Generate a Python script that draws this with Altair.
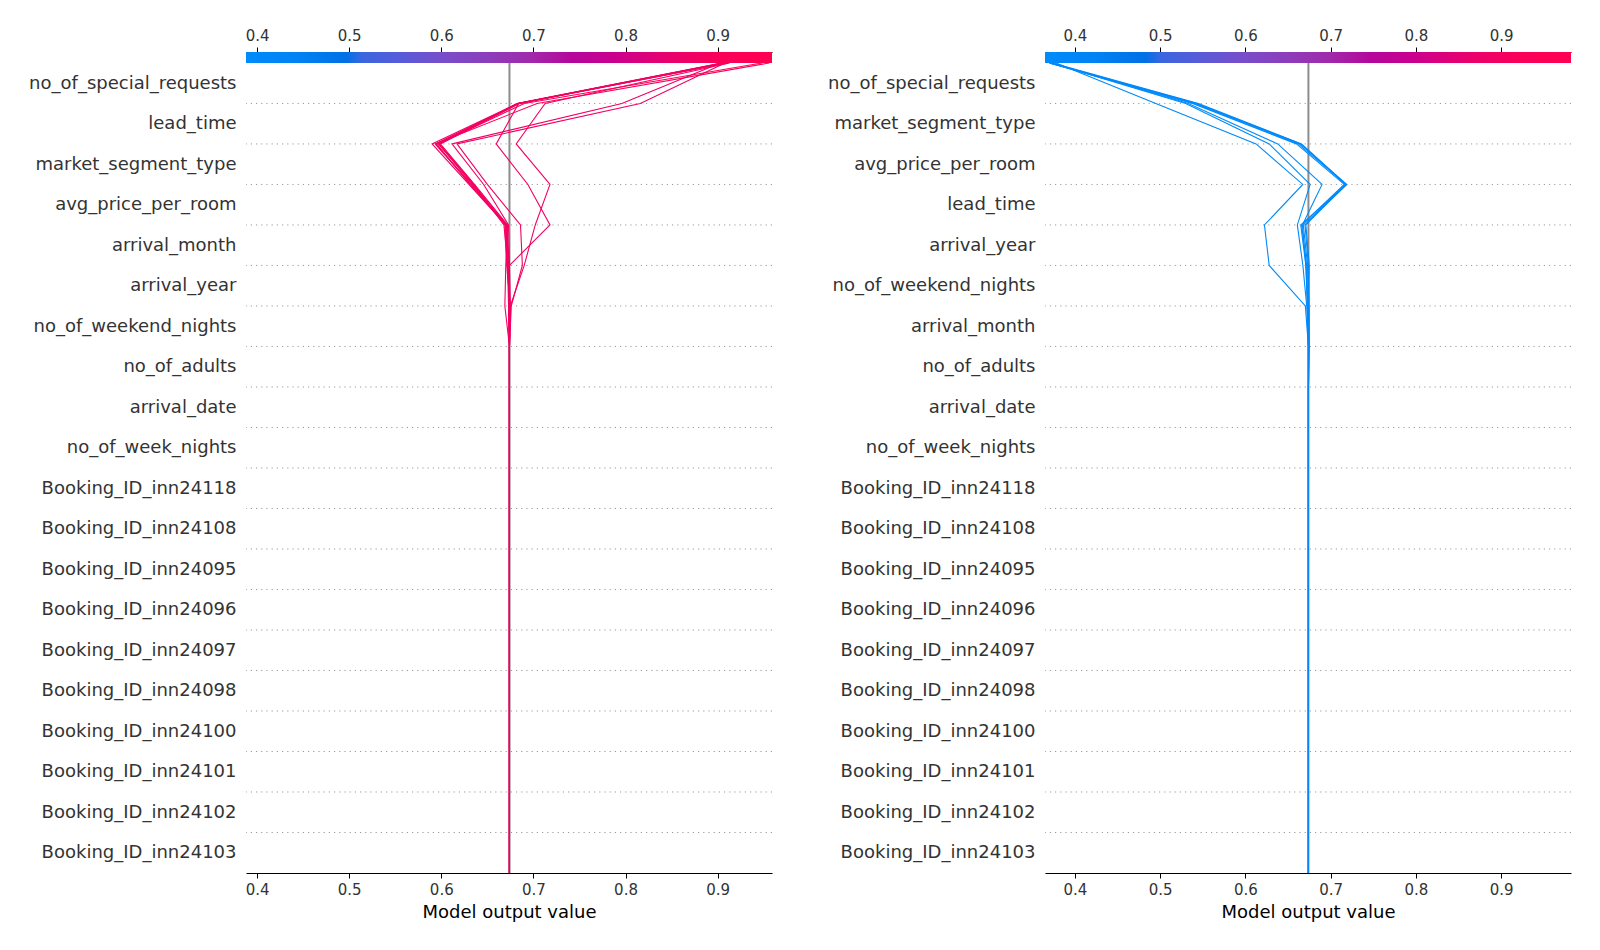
import altair as alt
import pandas as pd

BASE_VALUE = 0.674

# features listed top -> bottom
left_features = [
    "no_of_special_requests", "lead_time", "market_segment_type", "avg_price_per_room",
    "arrival_month", "arrival_year", "no_of_weekend_nights", "no_of_adults",
    "arrival_date", "no_of_week_nights", "Booking_ID_inn24118", "Booking_ID_inn24108",
    "Booking_ID_inn24095", "Booking_ID_inn24096", "Booking_ID_inn24097", "Booking_ID_inn24098",
    "Booking_ID_inn24100", "Booking_ID_inn24101", "Booking_ID_inn24102", "Booking_ID_inn24103",
]
right_features = [
    "no_of_special_requests", "market_segment_type", "avg_price_per_room", "lead_time",
    "arrival_year", "no_of_weekend_nights", "arrival_month", "no_of_adults",
    "arrival_date", "no_of_week_nights", "Booking_ID_inn24118", "Booking_ID_inn24108",
    "Booking_ID_inn24095", "Booking_ID_inn24096", "Booking_ID_inn24097", "Booking_ID_inn24098",
    "Booking_ID_inn24100", "Booking_ID_inn24101", "Booking_ID_inn24102", "Booking_ID_inn24103",
]

# cumulative model output at each row boundary, from the top (final prediction) downward;
# the remaining lower rows (zero contribution) sit at the base value
left_paths = [
    [0.905, 0.683, 0.590, 0.630, 0.670, 0.672, 0.673],
    [0.907, 0.684, 0.5935, 0.632, 0.671, 0.673, 0.674],
    [0.909, 0.684, 0.597, 0.634, 0.669, 0.671, 0.675],
    [0.911, 0.685, 0.599, 0.636, 0.672, 0.670, 0.669],
    [0.956, 0.704, 0.5935, 0.633, 0.670, 0.673, 0.674],
    [0.948, 0.690, 0.597, 0.635, 0.668, 0.672, 0.674],
    [0.903, 0.796, 0.6116, 0.646, 0.673, 0.674, 0.675],
    [0.908, 0.816, 0.617, 0.650, 0.686, 0.688, 0.676],
    [0.910, 0.684, 0.6596, 0.694, 0.718, 0.674, 0.673],
    [0.913, 0.7127, 0.6813, 0.718, 0.702, 0.690, 0.675],
    [0.906, 0.683, 0.595, 0.631, 0.670, 0.672, 0.674],
    [0.904, 0.682, 0.598, 0.635, 0.671, 0.674, 0.673],
]
right_paths = [
    [0.378, 0.495, 0.6126, 0.6674, 0.6224, 0.628, 0.6704, 0.674],
    [0.372, 0.530, 0.628, 0.676, 0.661, 0.6675, 0.672, 0.674],
    [0.373, 0.533, 0.638, 0.690, 0.667, 0.671, 0.673, 0.674],
    [0.370, 0.538, 0.660, 0.716, 0.666, 0.672, 0.673, 0.674],
    [0.371, 0.540, 0.662, 0.718, 0.668, 0.673, 0.674, 0.675],
    [0.372, 0.542, 0.664, 0.719, 0.670, 0.674, 0.675, 0.675],
    [0.370, 0.543, 0.665, 0.717, 0.671, 0.675, 0.674, 0.674],
    [0.374, 0.545, 0.666, 0.7185, 0.665, 0.671, 0.673, 0.674],
]

left_xdomain = [0.388, 0.959]
right_xdomain = [0.365, 0.982]
tick_values = [0.4, 0.5, 0.6, 0.7, 0.8, 0.9]

cmap_offsets = [0.0, 0.10, 0.19, 0.22, 0.30, 0.38, 0.46, 0.54, 0.62, 0.70, 0.80, 0.90, 1.0]
cmap_colors = ["#008bfb", "#0082f4", "#0070e6", "#3a66e0", "#5a5ad8", "#7a4cc9", "#8c3dbb",
               "#a02aab", "#b5069c", "#ca008e", "#e8006f", "#fa0059", "#ff0052"]

CBAR_UNITS = 0.27
PANEL_W = 526
PANEL_H = 821
FONT = "DejaVu Sans"


def panel(features, paths, xdom):
    n = len(features)
    rows = []
    for i, p in enumerate(paths):
        full = list(p) + [BASE_VALUE] * (n + 1 - len(p))
        for j, v in enumerate(full):
            rows.append({"obs": i, "k": n - j, "value": v, "final": full[0]})
    df = pd.DataFrame(rows)
    grid_df = pd.DataFrame({"k": list(range(1, n))})
    base_df = pd.DataFrame({"b": [BASE_VALUE], "y0": [0], "y1": [n]})
    cb_df = pd.DataFrame({"x0": [xdom[0]], "x1": [xdom[1]], "y0": [n], "y1": [n + CBAR_UNITS]})

    xscale = alt.Scale(domain=xdom, nice=False, zero=False)
    yscale = alt.Scale(domain=[0, n + CBAR_UNITS], nice=False, zero=False)
    cdomain = [xdom[0] + o * (xdom[1] - xdom[0]) for o in cmap_offsets]
    cscale = alt.Scale(domain=cdomain, range=cmap_colors)

    names = features[::-1]
    label_expr = " : ".join(
        f"floor(datum.value) == {i} ? '{name}'" for i, name in enumerate(names)) + " : ''"
    yaxis = alt.Axis(values=[i + 0.5 for i in range(n)], labelExpr=label_expr,
                     domain=False, ticks=False, grid=False, title=None, labelFontSize=18,
                     labelColor="#333333", labelPadding=10, labelFont=FONT, labelOverlap=False,
                     labelLimit=0)
    common = dict(values=tick_values, format=".1f", tickSize=5, tickColor="black", tickWidth=1,
                  domainColor="black", domainWidth=1.2, labelFontSize=15, labelColor="#333333",
                  labelFont=FONT, labelPadding=4, grid=False)
    top_axis = alt.Axis(orient="top", title=None, **common)
    bottom_axis = alt.Axis(orient="bottom", title="Model output value", titleFontSize=18,
                           titleFontWeight="normal", titleColor="black", titleFont=FONT,
                           titlePadding=6, **common)

    grid = alt.Chart(grid_df).mark_rule(color="#9a9a9a", strokeDash=[1.2, 4], strokeWidth=1).encode(
        y=alt.Y("k:Q", scale=yscale, axis=yaxis))
    base = alt.Chart(base_df).mark_rule(color="#8c8c8c", strokeWidth=2).encode(
        x=alt.X("b:Q", scale=xscale, axis=None),
        y=alt.Y("y0:Q", scale=yscale, axis=yaxis), y2="y1:Q")
    lines = alt.Chart(df).mark_line(strokeWidth=1.1).encode(
        x=alt.X("value:Q", scale=xscale, axis=bottom_axis),
        y=alt.Y("k:Q", scale=yscale, axis=yaxis),
        detail="obs:N",
        order=alt.Order("k:Q"),
        color=alt.Color("final:Q", scale=cscale, legend=None))
    gradient = {"gradient": "linear", "x1": 0, "y1": 0, "x2": 1, "y2": 0,
                "stops": [{"offset": o, "color": c} for o, c in zip(cmap_offsets, cmap_colors)]}
    cbar = alt.Chart(cb_df).mark_rect(color=gradient).encode(
        x=alt.X("x0:Q", scale=xscale, axis=top_axis), x2="x1:Q",
        y=alt.Y("y0:Q", scale=yscale, axis=yaxis), y2="y1:Q")
    return alt.layer(grid, base, lines, cbar).resolve_axis(x="independent").properties(
        width=PANEL_W, height=PANEL_H)


chart = alt.hconcat(
    panel(left_features, left_paths, left_xdomain),
    panel(right_features, right_paths, right_xdomain),
    spacing=54,
).properties(
    padding={"left": 20, "top": 20, "right": 5, "bottom": 5}
).configure(font=FONT).configure_view(strokeWidth=0)

chart.save("out.html", embed_options={"renderer": "svg", "actions": False})
